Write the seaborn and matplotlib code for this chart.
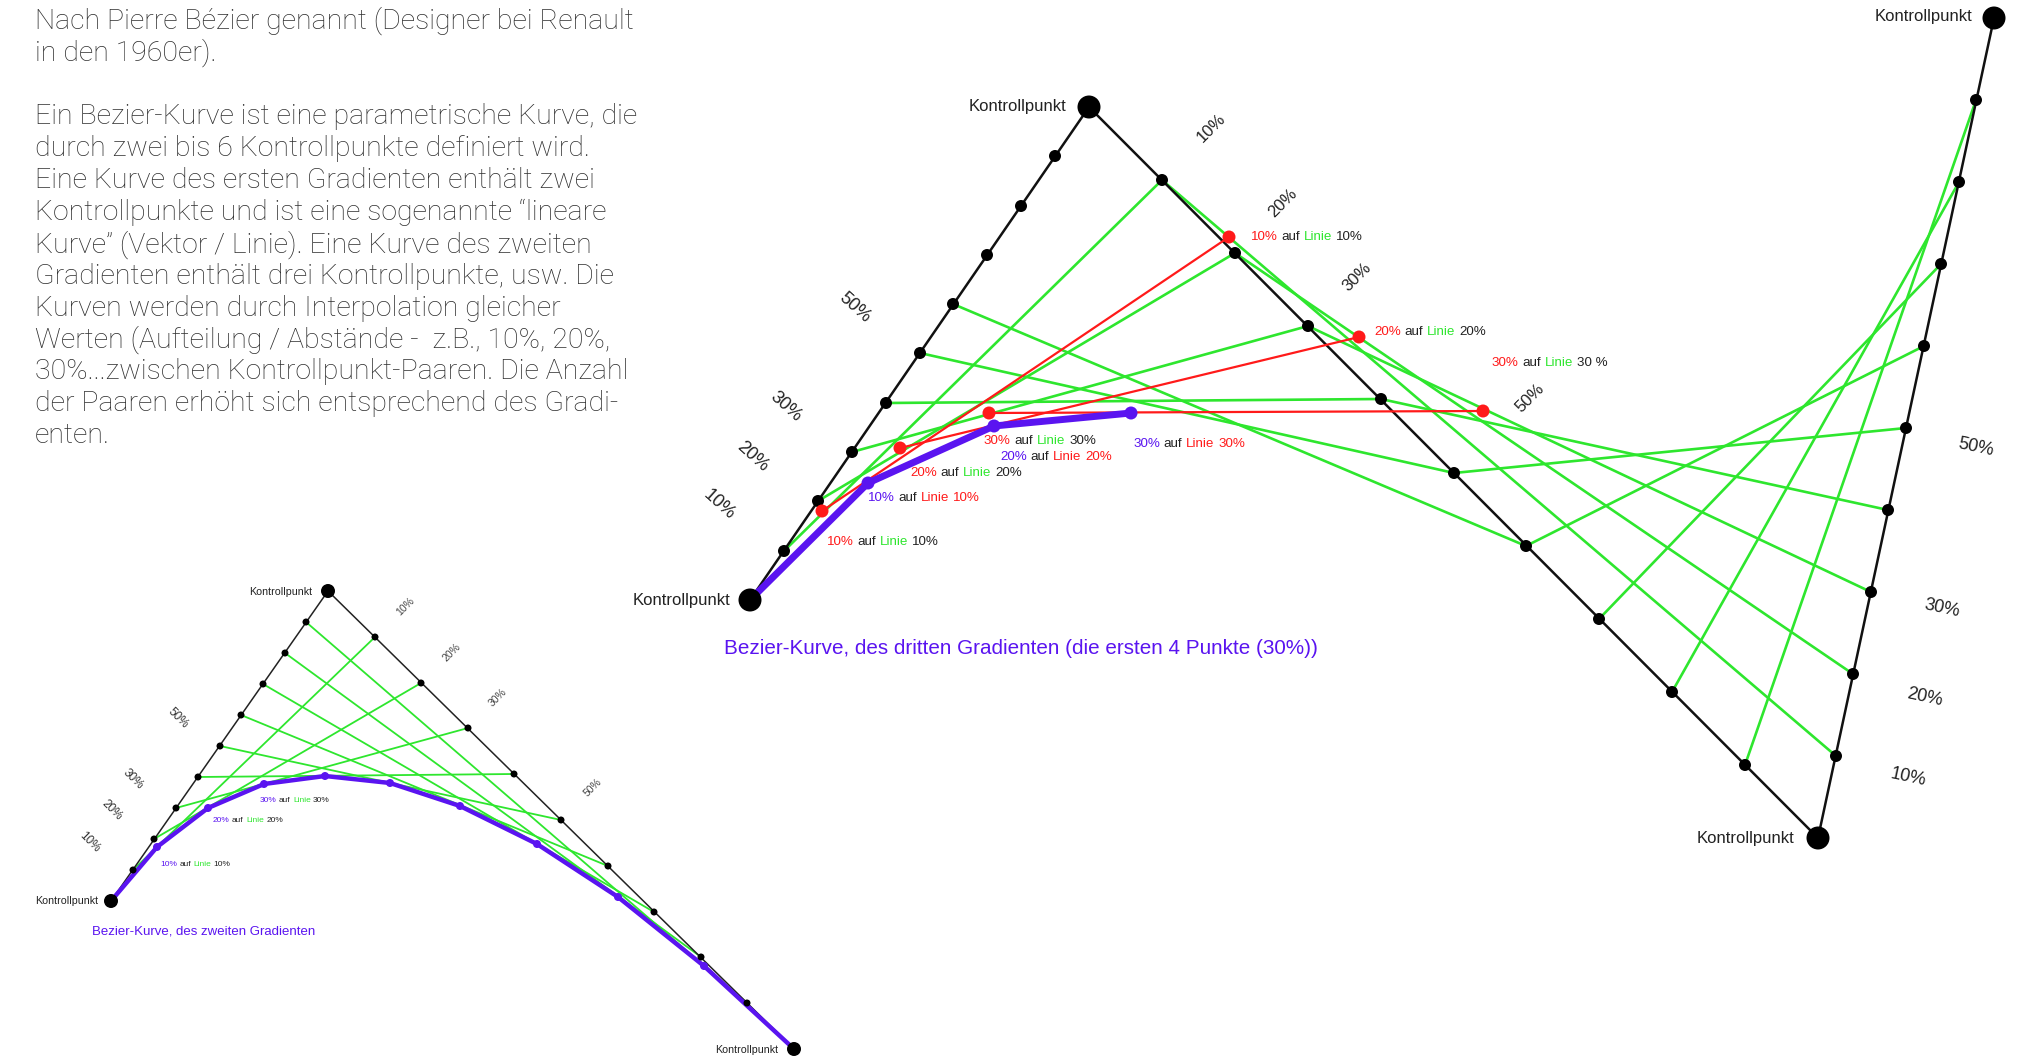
import matplotlib
matplotlib.use("Agg")
import matplotlib.pyplot as plt
import seaborn as sns
import pandas as pd

# all coordinates are picture pixels (origin top-left, 2041 x 1058)

# ---- small diagram: curve of the second degree ----
small_ctrl = [(111, 901), (328, 591), (794, 1049)]
small_dots_a = [(133, 870), (154, 839), (176, 808), (198, 777), (220, 746),
                (241, 715), (263, 684), (285, 653), (306, 622)]
small_dots_b = [(375, 637), (421, 683), (468, 728), (514, 774), (561, 820),
                (608, 866), (654, 912), (701, 957), (747, 1003)]
small_curve = [(157, 847), (208, 808), (264, 784), (325, 776), (390, 783),
               (460, 806), (537, 844), (618, 897), (704, 966)]

# ---- big diagram: curve of the third degree ----
big_ctrl = [(750, 600), (1089, 107), (1818, 838), (1994, 18)]
big_dots_a = [(784, 551), (818, 501), (852, 452), (886, 403), (920, 353),
              (953, 304), (987, 255), (1021, 206), (1055, 156)]
big_dots_b = [(1162, 180), (1235, 253), (1308, 326), (1381, 399), (1454, 473),
              (1526, 546), (1599, 619), (1672, 692), (1745, 765)]
big_dots_c = [(1836, 756), (1853, 674), (1871, 592), (1888, 510), (1906, 428),
              (1924, 346), (1941, 264), (1959, 182), (1976, 100)]
big_green_ab = 6          # only the first six a-b strings are drawn
big_red_left = [(822, 511), (900, 448), (989, 413)]
big_red_right = [(1229, 237), (1359, 337), (1483, 411)]
big_curve = [(868, 483), (994, 426), (1131, 413)]

# percent labels: (text, x, y)
small_pct_left = [("10%", 90, 842), ("20%", 112, 810), ("30%", 133, 779), ("50%", 178, 718)]
small_pct_right = [("10%", 405, 606), ("20%", 452, 652), ("30%", 498, 698), ("50%", 593, 788)]
big_pct_left = [("10%", 719, 505), ("20%", 753, 457), ("30%", 786, 407), ("50%", 855, 308)]
big_pct_mid = [("10%", 1211, 128), ("20%", 1283, 203), ("30%", 1357, 277), ("50%", 1530, 398)]
big_pct_right = [("10%", 1908, 777), ("20%", 1925, 697), ("30%", 1942, 608), ("50%", 1976, 447)]

# control point labels: (right edge x, y)
small_ctrl_labels = [(98, 901), (312, 592), (778, 1050)]
big_ctrl_labels = [(730, 600), (1066, 107), (1794, 838), (1972, 17)]

paragraph = [
    "Nach Pierre Bézier genannt (Designer bei Renault",
    "in den 1960er).",
    "",
    "Ein Bezier-Kurve ist eine parametrische Kurve, die",
    "durch zwei bis 6 Kontrollpunkte definiert wird.",
    "Eine Kurve des ersten Gradienten enthält zwei",
    "Kontrollpunkte und ist eine sogenannte “lineare",
    "Kurve” (Vektor / Linie). Eine Kurve des zweiten",
    "Gradienten enthält drei Kontrollpunkte, usw. Die",
    "Kurven werden durch Interpolation gleicher",
    "Werten (Aufteilung / Abstände -  z.B., 10%, 20%,",
    "30%...zwischen Kontrollpunkt-Paaren. Die Anzahl",
    "der Paaren erhöht sich entsprechend des Gradi-",
    "enten.",
]

GREEN = "#2ee62e"
RED = "#ff1a1a"
PURPLE = "#5a14f0"
DARK = "#222222"

small_point_labels = [
    (160, 864, [("10%", PURPLE), ("auf", DARK), ("Linie", GREEN), ("10%", DARK)]),
    (213, 821, [("20%", PURPLE), ("auf", DARK), ("Linie", GREEN), ("20%", DARK)]),
    (260, 801, [("30%", PURPLE), ("auf", DARK), ("Linie", GREEN), ("30%", DARK)]),
]
big_point_labels = [
    (827, 542, [("10%", RED), ("auf", DARK), ("Linie", GREEN), ("10%", DARK)]),
    (868, 498, [("10%", PURPLE), ("auf", DARK), ("Linie", RED), ("10%", RED)]),
    (910, 473, [("20%", RED), ("auf", DARK), ("Linie", GREEN), ("20%", DARK)]),
    (984, 441, [("30%", RED), ("auf", DARK), ("Linie", GREEN), ("30%", DARK)]),
    (1000, 457, [("20%", PURPLE), ("auf", DARK), ("Linie", RED), ("20%", RED)]),
    (1133, 444, [("30%", PURPLE), ("auf", DARK), ("Linie", RED), ("30%", RED)]),
    (1251, 237, [("10%", RED), ("auf", DARK), ("Linie", GREEN), ("10%", DARK)]),
    (1374, 332, [("20%", RED), ("auf", DARK), ("Linie", GREEN), ("20%", DARK)]),
    (1492, 363, [("30%", RED), ("auf", DARK), ("Linie", GREEN), ("30 %", DARK)]),
]

W, H = 2041, 1058
ARIAL = ["Liberation Sans", "DejaVu Sans"]


def draw_segments(ax, pairs, color, lw, z):
    rows = []
    for i, (p, q) in enumerate(pairs):
        rows.append({"seg": i, "x": p[0], "y": p[1]})
        rows.append({"seg": i, "x": q[0], "y": q[1]})
    df = pd.DataFrame(rows)
    sns.lineplot(data=df, x="x", y="y", units="seg", estimator=None, sort=False,
                 color=color, linewidth=lw, zorder=z, ax=ax, legend=False)


def draw_polyline(ax, pts, color, lw, z):
    df = pd.DataFrame({"x": [p[0] for p in pts], "y": [p[1] for p in pts]})
    sns.lineplot(data=df, x="x", y="y", estimator=None, sort=False,
                 color=color, linewidth=lw, zorder=z, ax=ax)


def draw_dots(ax, pts, color, diam_px, z):
    s = (diam_px * 0.72) ** 2
    sns.scatterplot(x=[p[0] for p in pts], y=[p[1] for p in pts], s=s, color=color,
                    edgecolor="none", linewidth=0, zorder=z, ax=ax, legend=False)


def multicolor(ax, x, y, pieces, size):
    gap = size * 0.28
    t = ax.text(x, y, pieces[0][0], color=pieces[0][1], fontsize=size,
                family=ARIAL, ha="left", va="center", zorder=10)
    for txt, col in pieces[1:]:
        t = ax.annotate(txt, xy=(1, 0), xycoords=t, xytext=(gap, 0),
                        textcoords="offset points", color=col, fontsize=size,
                        family=ARIAL, ha="left", va="bottom", zorder=10)


def pct_labels(ax, labels, rot, size, color):
    for txt, x, y in labels:
        ax.text(x, y, txt, rotation=rot, rotation_mode="anchor", ha="center",
                va="center", fontsize=size, family=ARIAL, color=color)


sns.set_theme(style="white")
fig = plt.figure(figsize=(W / 100, H / 100), dpi=100)
ax = fig.add_axes([0, 0, 1, 1])

# ---------- small diagram ----------
draw_segments(ax, list(zip(small_dots_a, small_dots_b)), GREEN, 1.3, 2)
draw_polyline(ax, small_ctrl, "#222222", 1.1, 3)
draw_polyline(ax, [small_ctrl[0]] + small_curve + [small_ctrl[2]], PURPLE, 3.2, 4)
draw_dots(ax, small_dots_a + small_dots_b, "black", 7, 5)
draw_dots(ax, small_curve, PURPLE, 8, 6)
draw_dots(ax, small_ctrl, "black", 14, 6)

# ---------- big diagram ----------
ab_pairs = list(zip(big_dots_a, big_dots_b))[:big_green_ab]
bc_pairs = list(zip(big_dots_b, big_dots_c))
draw_segments(ax, ab_pairs + bc_pairs, GREEN, 1.9, 2)
draw_polyline(ax, big_ctrl, "#111111", 1.8, 3)
draw_segments(ax, list(zip(big_red_left, big_red_right)), RED, 1.6, 3.5)
draw_polyline(ax, [big_ctrl[0]] + big_curve, PURPLE, 5, 4)
draw_dots(ax, big_dots_a + big_dots_b + big_dots_c, "black", 12, 5)
draw_dots(ax, big_red_left + big_red_right, RED, 13, 6)
draw_dots(ax, big_curve, PURPLE, 13, 6)
draw_dots(ax, big_ctrl, "black", 23, 6)

# ---------- labels ----------
for x, y in small_ctrl_labels:
    ax.text(x, y, "Kontrollpunkt", ha="right", va="center", fontsize=7.7,
            family=ARIAL, color=DARK)
for x, y in big_ctrl_labels:
    ax.text(x, y, "Kontrollpunkt", ha="right", va="center", fontsize=12,
            family=ARIAL, color=DARK)

pct_labels(ax, small_pct_left, -45, 8.5, "#333333")
pct_labels(ax, small_pct_right, 45, 7.5, "#444444")
pct_labels(ax, big_pct_left, -42, 13, "#222222")
pct_labels(ax, big_pct_mid, 45, 12, "#222222")
pct_labels(ax, big_pct_right, -12, 13, "#222222")

for x, y, pieces in small_point_labels:
    multicolor(ax, x, y, pieces, 6)
for x, y, pieces in big_point_labels:
    multicolor(ax, x, y, pieces, 9.6)

ax.text(92, 931, "Bezier-Kurve, des zweiten Gradienten", ha="left", va="center",
        fontsize=9.5, family=ARIAL, color=PURPLE)
ax.text(1021, 648, "Bezier-Kurve, des dritten Gradienten (die ersten 4 Punkte (30%))",
        ha="center", va="center", fontsize=14.9, family=ARIAL, color=PURPLE)

for i, line in enumerate(paragraph):
    ax.text(35, 21 + i * 31.9, line, ha="left", va="center", fontsize=20.5,
            family=["Roboto", "DejaVu Sans"], fontweight="light", color="#2e2e2e")

ax.set_xlim(0, W)
ax.set_ylim(H, 0)
ax.set_axis_off()

fig.savefig("out.png", dpi=100, facecolor="white")
